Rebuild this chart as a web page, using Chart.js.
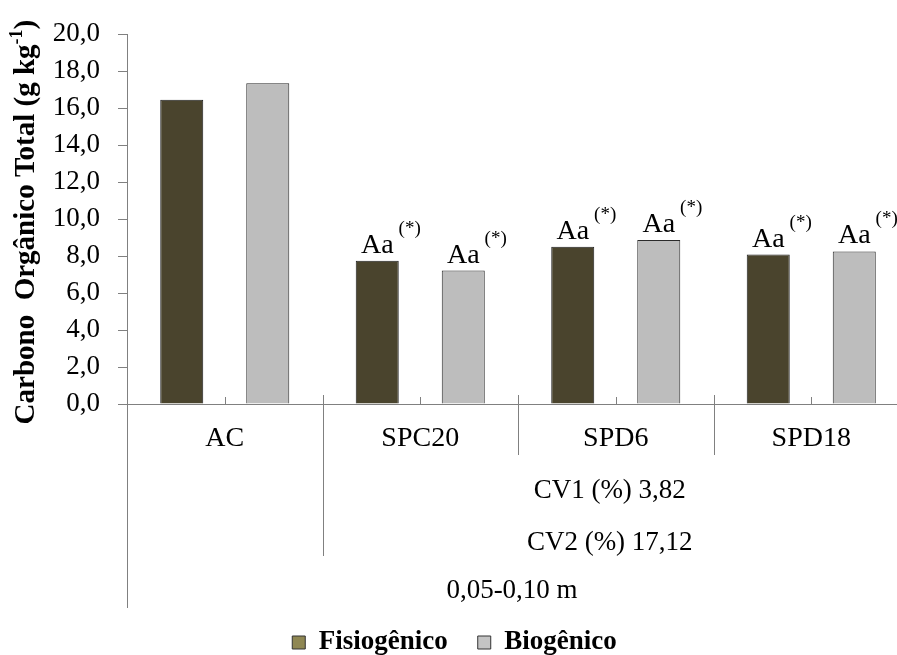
<!DOCTYPE html>
<html>
<head>
<meta charset="utf-8">
<script src="https://cdn.jsdelivr.net/npm/chart.js@4.4.1/dist/chart.umd.min.js"></script>
<style>
    html, body { margin: 0; padding: 0; overflow: hidden; background: #fff; }
    #wrap { width: 910px; height: 655px; }
</style>
</head>
<body>
<div id="wrap"><canvas id="chart"></canvas></div>
<script>
// Dados
const categorias = ['AC', 'SPC20', 'SPD6', 'SPD18'];
const fisiogenico = [16.45, 7.75, 8.5, 8.08];
const biogenico = [17.35, 7.22, 8.87, 8.25];
const letrasFisio = ['', 'Aa', 'Aa', 'Aa'];
const letrasBio = ['', 'Aa', 'Aa', 'Aa'];
const sobrescrito = '(*)';
const cv1 = 'CV1 (%) 3,82';
const cv2 = 'CV2 (%) 17,12';
const profundidade = '0,05-0,10 m';
const yMin = 0, yMax = 20, yPasso = 2;

const serif = '"Liberation Serif", "Times New Roman", serif';
Chart.defaults.font.family = serif;
Chart.defaults.color = '#000';

const corEixo = '#808080';
const coresBarras = ['#4a442d', '#bdbdbd'];
const coresLegenda = ['#8f8753', '#c4c4c4'];
const descerLegenda = 11;

// Titulo do eixo Y com sobrescrito
const tituloY = {
    id: 'tituloY',
    afterDraw(chart) {
        const ctx = chart.ctx, a = chart.chartArea;
        const p1 = 'Carbono  Orgânico Total (g kg', p2 = '-1', p3 = ')';
        ctx.save();
        ctx.fillStyle = '#000';
        ctx.textBaseline = 'alphabetic';
        ctx.font = 'bold 29px ' + serif;
        const w1 = ctx.measureText(p1).width, w3 = ctx.measureText(p3).width;
        ctx.font = 'bold 18px ' + serif;
        const w2 = ctx.measureText(p2).width;
        ctx.translate(34, (a.top + a.bottom) / 2 + 3);
        ctx.rotate(-Math.PI / 2);
        let x0 = -(w1 + w2 + w3) / 2;
        ctx.font = 'bold 29px ' + serif;
        ctx.fillText(p1, x0, 0);
        ctx.font = 'bold 18px ' + serif;
        ctx.fillText(p2, x0 + w1, -12);
        ctx.font = 'bold 29px ' + serif;
        ctx.fillText(p3, x0 + w1 + w2, 0);
        ctx.restore();
    }
};

// Letras sobre as barras
const letras = {
    id: 'letras',
    afterDatasetsDraw(chart) {
        const ctx = chart.ctx;
        [letrasFisio, letrasBio].forEach((lista, d) => {
            chart.getDatasetMeta(d).data.forEach((bar, i) => {
                if (!lista[i]) return;
                ctx.save();
                ctx.fillStyle = '#000';
                ctx.textBaseline = 'alphabetic';
                ctx.font = '28px ' + serif;
                ctx.textAlign = 'center';
                const w = ctx.measureText(lista[i]).width;
                ctx.fillText(lista[i], bar.x, bar.y - 8);
                ctx.font = '19px ' + serif;
                ctx.textAlign = 'left';
                ctx.fillText(sobrescrito, bar.x + w / 2 + 5, bar.y - 27);
                ctx.restore();
            });
        });
    }
};

// Eixo X em varios niveis
const eixoNiveis = {
    id: 'eixoNiveis',
    afterDraw(chart) {
        const ctx = chart.ctx, sx = chart.scales.x, a = chart.chartArea;
        const base = chart.scales.y.getPixelForValue(yMin);
        const px = v => Math.round(v) + 0.5;
        ctx.save();
        ctx.strokeStyle = corEixo;
        ctx.lineWidth = 1;
        ctx.beginPath();
        ctx.moveTo(px(a.left), base);
        ctx.lineTo(px(a.left), base + 204);
        for (let i = 0; i < categorias.length; i++) {
            const cx = px(sx.getPixelForValue(i));
            ctx.moveTo(cx, base - 7);
            ctx.lineTo(cx, base);
            if (i > 0) {
                const bx = px((sx.getPixelForValue(i - 1) + sx.getPixelForValue(i)) / 2);
                ctx.moveTo(bx, base - 9);
                ctx.lineTo(bx, base + (i === 1 ? 152 : 51));
            }
        }
        ctx.stroke();

        const direita = Math.min(a.right, window.innerWidth);
        const b1 = (sx.getPixelForValue(0) + sx.getPixelForValue(1)) / 2;
        ctx.fillStyle = '#000';
        ctx.font = '27px ' + serif;
        ctx.textAlign = 'center';
        ctx.textBaseline = 'alphabetic';
        ctx.fillText(cv1, (b1 + direita) / 2, base + 94);
        ctx.fillText(cv2, (b1 + direita) / 2, base + 146);
        ctx.fillText(profundidade, (a.left + direita) / 2, base + 194);
        ctx.restore();
    }
};

new Chart(document.getElementById('chart'), {
    type: 'bar',
    data: {
        labels: categorias,
        datasets: [{
            label: 'Fisiogênico',
            data: fisiogenico,
            backgroundColor: coresBarras[0],
            borderColor: '#1e1e1e',
            borderWidth: 1
        }, {
            label: 'Biogênico',
            data: biogenico,
            backgroundColor: coresBarras[1],
            borderColor: '#2a2a2a',
            borderWidth: 1
        }]
    },
    options: {
        responsive: true,
        maintainAspectRatio: false,
        animation: false,
        categoryPercentage: 0.88,
        barPercentage: 0.5,
        layout: { padding: { top: 28, right: 1, left: 0, bottom: -descerLegenda } },
        scales: {
            x: {
                offset: true,
                grid: { display: false, drawTicks: false },
                border: { color: corEixo },
                ticks: { padding: 18, font: { size: 28 }, color: '#000' },
                afterFit: s => { s.height = s.chart.height + descerLegenda - 404 - s.chart.legend.height; }
            },
            y: {
                min: yMin,
                max: yMax,
                ticks: {
                    stepSize: yPasso,
                    padding: 18,
                    font: { size: 27 },
                    color: '#000',
                    callback: v => v.toFixed(1).replace('.', ',')
                },
                grid: { drawOnChartArea: false, tickLength: 9, color: corEixo },
                border: { color: corEixo },
                afterFit: s => { s.width = 127; }
            }
        },
        plugins: {
            tooltip: { enabled: false },
            legend: {
                position: 'bottom',
                labels: {
                    color: '#000',
                    font: { size: 27, weight: 'bold' },
                    boxWidth: 13,
                    boxHeight: 13,
                    padding: 30,
                    generateLabels: chart => Chart.defaults.plugins.legend.labels.generateLabels(chart)
                        .map((l, i) => Object.assign(l, { fillStyle: coresLegenda[i], strokeStyle: '#333', lineWidth: 1 }))
                }
            }
        }
    },
    plugins: [tituloY, letras, eixoNiveis]
});
</script>
</body>
</html>
